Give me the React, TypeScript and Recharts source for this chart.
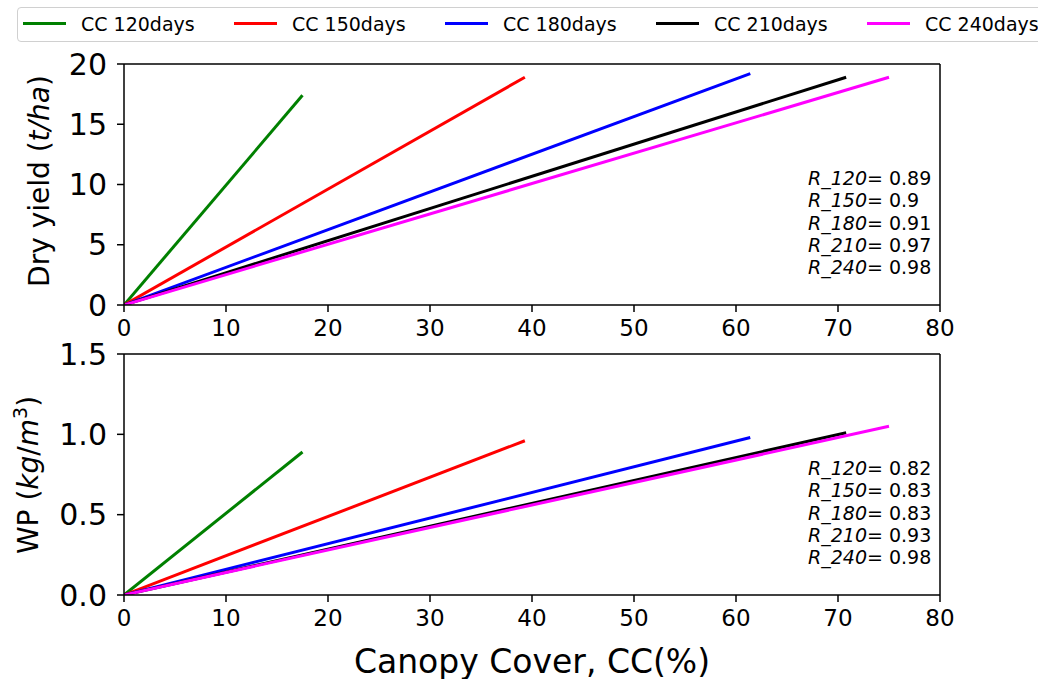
import React from "react";
import { LineChart, Line, XAxis, YAxis, ReferenceLine } from "recharts";

const seriesNames = ["CC 120days", "CC 150days", "CC 180days", "CC 210days", "CC 240days"];
const seriesColors = ["#008000", "#ff0000", "#0000ff", "#000000", "#ff00ff"];
const rNames = ["R_120", "R_150", "R_180", "R_210", "R_240"];

// end point of each fitted line (canopy cover %, value); every line starts at the origin
const ccEnd = [17.5, 39.3, 61.4, 70.8, 75.0];
const yieldEnd = [17.4, 18.9, 19.2, 18.9, 18.9];
const wpEnd = [0.89, 0.96, 0.98, 1.01, 1.05];

const rYield = ["0.89", "0.9", "0.91", "0.97", "0.98"];
const rWp = ["0.82", "0.83", "0.83", "0.93", "0.98"];

const xTicks = [0, 10, 20, 30, 40, 50, 60, 70, 80];
const yieldTicks = [0, 5, 10, 15, 20];
const wpTicks = [0, 0.5, 1.0, 1.5];

const FONT = "'DejaVu Sans', sans-serif";
const W = 1038;

type Pt = { cc: number; v: number };

function makeSeries(ends: number[]): Pt[][] {
  return ends.map((end, i) => [
    { cc: 0, v: 0 },
    { cc: ccEnd[i], v: end }
  ]);
}

const axisStyle = { stroke: "#000", strokeWidth: 1.5 };

function Panel({
  top,
  series,
  yMax,
  yTicks,
  fmt
}: {
  top: number;
  series: Pt[][];
  yMax: number;
  yTicks: number[];
  fmt: (v: number) => string;
}) {
  return (
    <div style={{ position: "absolute", left: 0, top }}>
      <LineChart width={W} height={345} margin={{ top: 64, right: 98, bottom: 0, left: 14 }}>
        <XAxis
          dataKey="cc"
          type="number"
          domain={[0, 80]}
          ticks={xTicks}
          height={40}
          axisLine={axisStyle}
          tickLine={axisStyle}
          tickSize={7}
          tickMargin={8}
          tick={{ fill: "#000", fontSize: 23, fontFamily: FONT }}
          allowDataOverflow
        />
        <YAxis
          dataKey="v"
          type="number"
          domain={[0, yMax]}
          ticks={yTicks}
          width={110}
          axisLine={axisStyle}
          tickLine={axisStyle}
          tickSize={7}
          tickMargin={10}
          tickFormatter={fmt}
          tick={{ fill: "#000", fontSize: 30, fontFamily: FONT }}
          allowDataOverflow
        />
        <ReferenceLine y={yMax} stroke="#000" strokeWidth={1.5} />
        <ReferenceLine x={80} stroke="#000" strokeWidth={1.5} />
        {series.map((d, i) => (
          <Line
            key={seriesNames[i]}
            data={d}
            dataKey="v"
            name={seriesNames[i]}
            type="linear"
            stroke={seriesColors[i]}
            strokeWidth={3}
            dot={false}
            isAnimationActive={false}
          />
        ))}
      </LineChart>
    </div>
  );
}

function Notes({ top, values }: { top: number; values: string[] }) {
  return (
    <div
      style={{
        position: "absolute",
        left: 808,
        top,
        fontFamily: FONT,
        fontSize: 19,
        lineHeight: "22.3px",
        color: "#000",
        whiteSpace: "nowrap"
      }}
    >
      {values.map((v, i) => (
        <div key={rNames[i]}>
          <i>{rNames[i]}</i>= {v}
        </div>
      ))}
    </div>
  );
}

export default function App() {
  return (
    <div
      style={{
        position: "fixed",
        left: 0,
        top: 0,
        width: W,
        height: 679,
        background: "#fff",
        overflow: "hidden",
        fontFamily: FONT
      }}
    >
      {/* legend */}
      <div
        style={{
          position: "absolute",
          left: 17,
          top: 7,
          width: 1060,
          height: 33,
          border: "1.5px solid #d0d0d0",
          borderRadius: 4
        }}
      />
      {seriesNames.map((n, i) => (
        <React.Fragment key={n}>
          <div
            style={{
              position: "absolute",
              left: 23 + 211 * i,
              top: 22,
              width: 43,
              height: 3,
              background: seriesColors[i]
            }}
          />
          <div
            style={{
              position: "absolute",
              left: 81 + 211 * i,
              top: 11,
              fontSize: 19,
              lineHeight: "26px",
              whiteSpace: "nowrap",
              color: "#000"
            }}
          >
            {n}
          </div>
        </React.Fragment>
      ))}

      <Panel top={0} series={makeSeries(yieldEnd)} yMax={20} yTicks={yieldTicks} fmt={(v) => String(v)} />
      <Panel top={290} series={makeSeries(wpEnd)} yMax={1.5} yTicks={wpTicks} fmt={(v) => v.toFixed(1)} />

      <Notes top={167} values={rYield} />
      <Notes top={457} values={rWp} />

      {/* y axis titles */}
      <div
        style={{
          position: "absolute",
          left: 39,
          top: 181,
          transform: "translate(-50%, -50%) rotate(-90deg)",
          fontSize: 28,
          whiteSpace: "nowrap",
          color: "#000"
        }}
      >
        Dry yield (<i>t/ha</i>)
      </div>
      <div
        style={{
          position: "absolute",
          left: 28,
          top: 475,
          transform: "translate(-50%, -50%) rotate(-90deg)",
          fontSize: 28,
          whiteSpace: "nowrap",
          color: "#000"
        }}
      >
        WP (<i>kg</i>/<i>m</i>
        <sup style={{ fontSize: 19, lineHeight: 0 }}>3</sup>)
      </div>

      {/* x axis title */}
      <div
        style={{
          position: "absolute",
          left: 532,
          top: 661,
          transform: "translate(-50%, -50%)",
          fontSize: 33,
          whiteSpace: "nowrap",
          color: "#000"
        }}
      >
        Canopy Cover, CC(%)
      </div>
    </div>
  );
}
